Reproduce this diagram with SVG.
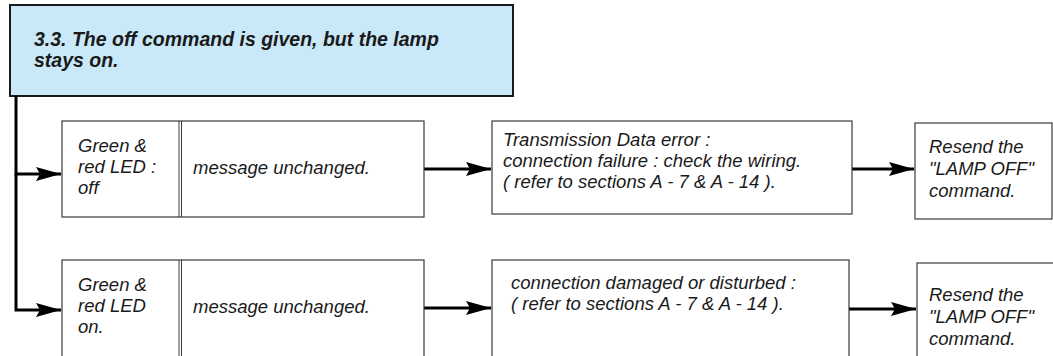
<svg xmlns="http://www.w3.org/2000/svg" width="1053" height="356" viewBox="0 0 1053 356">
<defs>
<style>
.box{fill:#fff;stroke:#3a3a3a;stroke-width:1.2}
.hdr{fill:#c9e8f8;stroke:#1a1a1a;stroke-width:2}
.t{font-family:"Liberation Sans",Arial,sans-serif;font-style:italic;font-size:18.5px;fill:#1a1a1a}
.h{font-family:"Liberation Sans",Arial,sans-serif;font-style:italic;font-weight:bold;font-size:19.5px;fill:#1a1a1a}
.c{fill:none;stroke:#000;stroke-width:3}
.div{stroke:#3a3a3a;stroke-width:1}
</style>
<marker id="ah" viewBox="0 0 25 14" refX="25" refY="7" markerWidth="25" markerHeight="14" markerUnits="userSpaceOnUse" orient="auto">
<path d="M0 0 L25 7 L0 14 L4 7 Z" fill="#000"/>
</marker>
</defs>
<g id="header">
<rect class="hdr" x="10" y="5" width="503" height="91"/>
<text class="h" x="34" y="46">3.3. The off command is given, but the lamp</text>
<text class="h" x="34" y="67">stays on.</text>
</g>
<g id="connectors">
<path class="c" d="M16 96 V174 H61" marker-end="url(#ah)"/>
<path class="c" d="M16 174 V310 H61" marker-end="url(#ah)"/>
<path class="c" d="M424 169 H491" marker-end="url(#ah)"/>
<path class="c" d="M852 169 H914" marker-end="url(#ah)"/>
<path class="c" d="M424 308 H491" marker-end="url(#ah)"/>
<path class="c" d="M849 309 H916" marker-end="url(#ah)"/>
</g>
<g id="r1-led">
<rect class="box" x="62" y="121" width="362" height="96"/>
<line class="div" x1="179" y1="121" x2="179" y2="217"/>
<line class="div" x1="181.5" y1="121" x2="181.5" y2="217"/>
<text class="t" x="78" y="152">Green &amp;</text>
<text class="t" x="78" y="173">red LED :</text>
<text class="t" x="78" y="194">off</text>
<text class="t" x="193" y="174">message unchanged.</text>
</g>
<g id="r1-cause">
<rect class="box" x="492" y="121" width="360" height="93"/>
<text class="t" x="503" y="146">Transmission Data error :</text>
<text class="t" x="503" y="167">connection failure : check the wiring.</text>
<text class="t" x="503" y="188">( refer to sections A - 7 &amp; A - 14 ).</text>
</g>
<g id="r1-action">
<rect class="box" x="915" y="123" width="137" height="96"/>
<text class="t" x="929" y="153">Resend the</text>
<text class="t" x="929" y="175">"LAMP OFF"</text>
<text class="t" x="929" y="197">command.</text>
</g>
<g id="r2-led">
<rect class="box" x="62" y="260" width="362" height="110"/>
<line class="div" x1="179" y1="260" x2="179" y2="370"/>
<line class="div" x1="181.5" y1="260" x2="181.5" y2="370"/>
<text class="t" x="78" y="291">Green &amp;</text>
<text class="t" x="78" y="312">red LED</text>
<text class="t" x="78" y="333">on.</text>
<text class="t" x="193" y="313">message unchanged.</text>
</g>
<g id="r2-cause">
<rect class="box" x="492" y="260" width="357" height="110"/>
<text class="t" x="511" y="289">connection damaged or disturbed :</text>
<text class="t" x="511" y="310">( refer to sections A - 7 &amp; A - 14 ).</text>
</g>
<g id="r2-action">
<rect class="box" x="917" y="263" width="150" height="110"/>
<text class="t" x="929" y="301">Resend the</text>
<text class="t" x="929" y="323">"LAMP OFF"</text>
<text class="t" x="929" y="345">command.</text>
</g>
</svg>
